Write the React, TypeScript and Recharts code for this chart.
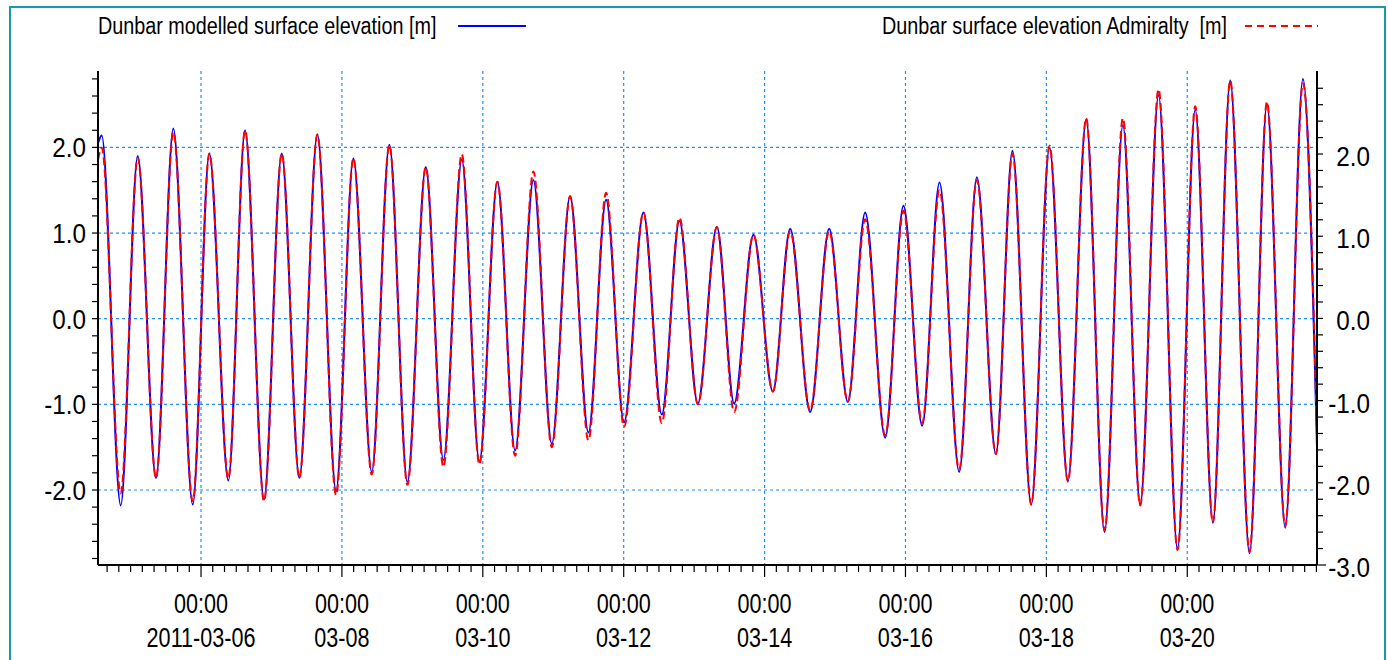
import React from "react";
import { LineChart, Line, XAxis, YAxis, CartesianGrid } from "recharts";

// Turning points (high and low water) at Dunbar, March 2011, "MM-DD hh:mm"
const TIMES = [
  "03-04 12:54", "03-04 14:10", "03-04 20:38", "03-05 02:26", "03-05 08:40",
  "03-05 14:34", "03-05 21:10", "03-06 02:50", "03-06 09:18", "03-06 15:00",
  "03-06 21:28", "03-07 03:30", "03-07 09:30", "03-07 15:38", "03-07 22:00",
  "03-08 03:54", "03-08 10:10", "03-08 16:10", "03-08 22:18", "03-09 04:34",
  "03-09 10:34", "03-09 16:50", "03-09 22:50", "03-10 04:58", "03-10 11:00",
  "03-10 17:14", "03-10 23:30", "03-11 05:44", "03-11 11:59", "03-11 18:00",
  "03-12 00:08", "03-12 06:43", "03-12 12:59", "03-12 18:59", "03-13 01:16",
  "03-13 07:44", "03-13 13:38", "03-13 20:12", "03-14 02:49", "03-14 08:43",
  "03-14 15:31", "03-14 22:00", "03-15 04:22", "03-15 10:16", "03-15 17:05",
  "03-15 23:19", "03-16 05:41", "03-16 11:35", "03-16 18:18", "03-17 00:19",
  "03-17 06:48", "03-17 12:27", "03-17 18:50", "03-18 01:04", "03-18 07:20",
  "03-18 13:34", "03-18 19:49", "03-19 02:05", "03-19 07:58", "03-19 14:13",
  "03-19 20:41", "03-20 02:43", "03-20 08:44", "03-20 14:38", "03-20 21:13",
  "03-21 03:09", "03-21 09:23", "03-21 15:25", "03-21 20:12",
];

// Modelled surface elevation [m]
const MODELLED = [
  2.05, 2.14, -2.18, 1.9, -1.86,
  2.22, -2.17, 1.93, -1.89, 2.2,
  -2.11, 1.93, -1.86, 2.15, -2.01,
  1.87, -1.79, 2.03, -1.91, 1.77,
  -1.65, 1.86, -1.67, 1.6, -1.54,
  1.62, -1.46, 1.43, -1.33, 1.39,
  -1.21, 1.24, -1.12, 1.14, -0.99,
  1.07, -0.99, 0.98, -0.85, 1.05,
  -1.09, 1.05, -0.97, 1.24, -1.39,
  1.32, -1.25, 1.59, -1.79, 1.65,
  -1.58, 1.96, -2.17, 2.0, -1.9,
  2.33, -2.49, 2.26, -2.18, 2.61,
  -2.69, 2.44, -2.38, 2.78, -2.74,
  2.51, -2.44, 2.8, -1.5,
];

// Admiralty surface elevation [m]
const ADMIRALTY = [
  1.85, 2.0, -2.04, 1.88, -1.86,
  2.18, -2.13, 1.93, -1.86, 2.2,
  -2.13, 1.93, -1.86, 2.15, -2.06,
  1.87, -1.82, 2.03, -1.94, 1.77,
  -1.73, 1.92, -1.7, 1.6, -1.6,
  1.72, -1.5, 1.43, -1.42, 1.47,
  -1.26, 1.24, -1.22, 1.18, -1.0,
  1.07, -1.09, 0.98, -0.85, 1.02,
  -1.07, 1.02, -0.97, 1.16, -1.36,
  1.26, -1.22, 1.5, -1.76, 1.62,
  -1.58, 1.93, -2.17, 2.02, -1.9,
  2.34, -2.47, 2.34, -2.18, 2.68,
  -2.7, 2.48, -2.38, 2.78, -2.72,
  2.53, -2.42, 2.75, -1.35,
];

const X_RANGE = ["03-04 12:54", "03-21 20:12"];
const DATE_TICKS = [
  "03-06 00:00", "03-08 00:00", "03-10 00:00", "03-12 00:00",
  "03-14 00:00", "03-16 00:00", "03-18 00:00", "03-20 00:00",
];
const DATE_LABELS = ["2011-03-06", "03-08", "03-10", "03-12", "03-14", "03-16", "03-18", "03-20"];
const TIME_LABEL = "00:00";
const LEFT_GRID = [-2, -1, 0, 1, 2];
const LEFT_DOMAIN = [-2.876, 2.892];
const RIGHT_DOMAIN = [-3.0, 3.01];

const SERIES_MODEL = "Dunbar modelled surface elevation [m]";
const SERIES_ADM = "Dunbar surface elevation Admiralty  [m]";

const FONT = "'Liberation Sans', Arial, sans-serif";
const GRID_COLOR = "#1E90FF";

// hours after 2011-03-06 00:00
const toHours = (s: string) => {
  const [md, hm] = s.split(" ");
  const [m, d] = md.split("-").map(Number);
  const [h, mi] = hm.split(":").map(Number);
  return (Date.UTC(2011, m - 1, d, h, mi) - Date.UTC(2011, 2, 6)) / 3.6e6;
};

const data = TIMES.map((t, i) => ({ t: toHours(t), model: MODELLED[i], adm: ADMIRALTY[i] }));
const xDomain = X_RANGE.map(toHours);
const majorHours = DATE_TICKS.map(toHours);

// minor ticks every 4 hours
const xTicks: number[] = [];
for (let h = Math.ceil(xDomain[0] / 4) * 4; h <= xDomain[1]; h += 4) xTicks.push(h);

const stepTicks = (lo: number, hi: number) => {
  const out: number[] = [];
  for (let i = Math.round(lo * 5); i <= Math.round(hi * 5); i++) out.push(i / 5);
  return out;
};
const leftTicks = stepTicks(-2.8, 2.8);
const rightTicks = stepTicks(-3.0, 2.8);
const isWhole = (v: number) => Math.abs(v - Math.round(v)) < 1e-6;

const CondText = ({ x, y, anchor = "middle", size = 24, sx = 0.88, children }: any) => (
  <text
    transform={`translate(${x},${y}) scale(${sx},1)`}
    textAnchor={anchor}
    fontSize={size}
    fontFamily={FONT}
    fill="#000"
    style={{ whiteSpace: "pre" }}
  >
    {children}
  </text>
);

const BottomTick = (props: any) => {
  const { x, y, payload } = props;
  const idx = majorHours.findIndex((d) => Math.abs(d - payload.value) < 1e-6);
  const major = idx >= 0;
  return (
    <g>
      <line x1={x} x2={x} y1={y} y2={y + (major ? 12 : 7)} stroke="#000" strokeWidth={1.2} />
      {major && (
        <>
          <CondText x={x} y={y + 48} size={27} sx={0.8}>{TIME_LABEL}</CondText>
          <CondText x={x} y={y + 82} size={27} sx={0.8}>{DATE_LABELS[idx]}</CondText>
        </>
      )}
    </g>
  );
};

const LeftTick = (props: any) => {
  const { x, y, payload } = props;
  const v = payload.value;
  return (
    <g>
      <line x1={x - 6} x2={x} y1={y} y2={y} stroke="#000" strokeWidth={1.2} />
      {isWhole(v) && (
        <CondText x={x - 12} y={y + 10} anchor="end" size={27} sx={0.9}>{v.toFixed(1)}</CondText>
      )}
    </g>
  );
};

const RightTick = (props: any) => {
  const { x, y, payload } = props;
  const v = payload.value;
  const whole = isWhole(v);
  return (
    <g>
      <line x1={x} x2={x + (v <= -2.99 ? 9 : 6)} y1={y} y2={y} stroke="#000" strokeWidth={1.2} />
      {whole && (
        <CondText x={x + 53} y={y + 12} anchor="end" size={27} sx={0.9}>{v.toFixed(1)}</CondText>
      )}
    </g>
  );
};

export default function App() {
  return (
    <div style={{ position: "absolute", left: 0, top: 0, width: 1388, height: 660, background: "#fff", overflow: "hidden" }}>
      <LineChart
        width={1388}
        height={660}
        data={data}
        margin={{ top: 71, right: 6, bottom: 5, left: 8 }}
      >
        <CartesianGrid
          xAxisId="main"
          yAxisId="left"
          horizontalValues={LEFT_GRID}
          verticalValues={majorHours}
          stroke={GRID_COLOR}
          strokeDasharray="3 3"
          strokeWidth={1.2}
        />
        <XAxis
          xAxisId="main"
          dataKey="t"
          type="number"
          domain={xDomain}
          allowDataOverflow
          ticks={xTicks}
          interval={0}
          height={90}
          tickSize={0}
          tickMargin={0}
          tickLine={false}
          tick={<BottomTick />}
          axisLine={{ stroke: "#000", strokeWidth: 2 }}
        />
        <XAxis
          xAxisId="top"
          orientation="top"
          type="number"
          domain={xDomain}
          allowDataOverflow
          height={0}
          tick={false}
          tickLine={false}
          axisLine={{ stroke: "#000", strokeWidth: 2.5 }}
        />
        <YAxis
          yAxisId="left"
          type="number"
          domain={LEFT_DOMAIN}
          allowDataOverflow
          ticks={leftTicks}
          interval={0}
          width={90}
          tickSize={0}
          tickMargin={0}
          tickLine={false}
          tick={<LeftTick />}
          axisLine={{ stroke: "#000", strokeWidth: 2 }}
        />
        <YAxis
          yAxisId="right"
          orientation="right"
          type="number"
          domain={RIGHT_DOMAIN}
          allowDataOverflow
          ticks={rightTicks}
          interval={0}
          width={65}
          tickSize={0}
          tickMargin={0}
          tickLine={false}
          tick={<RightTick />}
          axisLine={{ stroke: "#000", strokeWidth: 2 }}
        />
        <Line
          xAxisId="main"
          yAxisId="left"
          type="monotone"
          dataKey="model"
          name={SERIES_MODEL}
          stroke="#0000FF"
          strokeWidth={2}
          dot={false}
          isAnimationActive={false}
        />
        <Line
          xAxisId="main"
          yAxisId="left"
          type="monotone"
          dataKey="adm"
          name={SERIES_ADM}
          stroke="#FF0000"
          strokeWidth={2}
          strokeDasharray="8 4"
          dot={false}
          isAnimationActive={false}
        />
      </LineChart>
      <svg
        width={1388}
        height={660}
        style={{ position: "absolute", left: 0, top: 0, pointerEvents: "none" }}
      >
        <rect x={10} y={7} width={1375} height={700} fill="none" stroke="#179AA6" strokeWidth={2} />
        <CondText x={98} y={34} anchor="start" size={23} sx={0.86}>{SERIES_MODEL}</CondText>
        <line x1={458} x2={526} y1={26} y2={26} stroke="#0000FF" strokeWidth={2} />
        <CondText x={882} y={34} anchor="start" size={23} sx={0.86}>{SERIES_ADM}</CondText>
        <line x1={1245} x2={1318} y1={26} y2={26} stroke="#FF0000" strokeWidth={2} strokeDasharray="7 5" />
      </svg>
    </div>
  );
}
